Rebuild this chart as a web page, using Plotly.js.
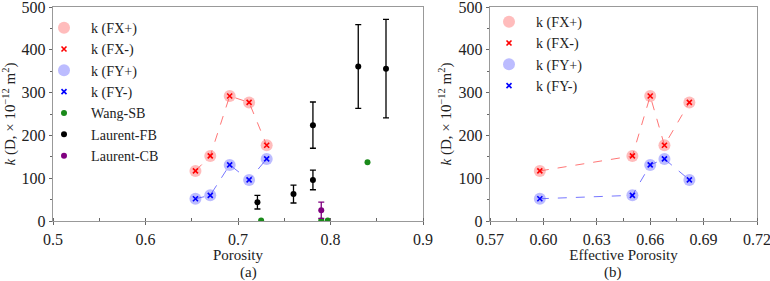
<!DOCTYPE html>
<html><head><meta charset="utf-8">
<script src="https://cdn.plot.ly/plotly-3.0.1.min.js"></script>
<style>body{margin:0;background:#fff}#c{width:770px;height:281px}</style>
</head><body><div id="c"></div>
<script>
// Samples (porosity / effective porosity / permeability)
const porosity    = [0.654, 0.670, 0.691, 0.712, 0.731];
const effPorosity = [0.598, 0.650, 0.660, 0.682, 0.668];
const kFXplus  = [117, 152, 292, 277, 177];
const kFXminus = [117, 152, 292, 277, 177];
const kFYplus  = [52, 60, 131, 96, 145];
const kFYminus = [52, 60, 131, 96, 145];
// Literature
const wangX = [0.725, 0.790, 0.797, 0.840];
const wangY = [1, 1, 1, 137];
const lfbX = [0.721, 0.760, 0.781, 0.781, 0.830, 0.860];
const lfbY = [44, 63, 96, 224, 361, 356];
const lfbErr = [16, 21, 23, 54, 98, 115];
const lcbX = [0.790];
const lcbY = [25];
const lcbErr = [19];
const seriesNames = ['k (FX+)', 'k (FX-)', 'k (FY+)', 'k (FY-)', 'Wang-SB', 'Laurent-FB', 'Laurent-CB'];

const W = 770;
const serif = 'Liberation Serif, Times New Roman, serif';
const txt = '#222';
const pinkFill = 'rgba(255,80,80,0.38)';
const blueFill = 'rgba(80,80,255,0.38)';
const pad = '\u2002';   // extra gap between legend symbol and label
const nm = (i)=>pad + seriesNames[i];

// sort for panel (b)
const order = effPorosity.map((v,i)=>i).sort((a,b)=>effPorosity[a]-effPorosity[b]);
const pick = (arr)=>order.map(i=>arr[i]);

function panel(xs, fxp, fxm, fyp, fym, xa, ya, lg){
  return [
    {x: xs, y: fxp, xaxis: xa, yaxis: ya, mode:'lines', line:{color:'rgba(255,60,60,0.7)', dash:'dash', width:1}, showlegend:false, hoverinfo:'skip'},
    {x: xs, y: fyp, xaxis: xa, yaxis: ya, mode:'lines', line:{color:'rgba(60,60,255,0.7)', dash:'dash', width:1}, showlegend:false, hoverinfo:'skip'},
    {x: xs, y: fxp, xaxis: xa, yaxis: ya, mode:'markers', name:nm(0), legend: lg, marker:{color:pinkFill, size:12, symbol:'circle'}},
    {x: xs, y: fxm, xaxis: xa, yaxis: ya, mode:'markers', name:nm(1), legend: lg, marker:{color:'red', size:5, symbol:'x-thin', line:{color:'red', width:1.6}}},
    {x: xs, y: fyp, xaxis: xa, yaxis: ya, mode:'markers', name:nm(2), legend: lg, marker:{color:blueFill, size:12, symbol:'circle'}},
    {x: xs, y: fym, xaxis: xa, yaxis: ya, mode:'markers', name:nm(3), legend: lg, marker:{color:'blue', size:5, symbol:'x-thin', line:{color:'blue', width:1.6}}}
  ];
}

const data = [
  ...panel(porosity, kFXplus, kFXminus, kFYplus, kFYminus, 'x', 'y', 'legend'),
  {x: wangX, y: wangY, mode:'markers', name:nm(4), legend:'legend', marker:{color:'#1a8a1a', size:6}},
  {x: lfbX, y: lfbY, mode:'markers', name:nm(5), legend:'legend', marker:{color:'black', size:6},
   error_y:{type:'data', array: lfbErr, visible:true, color:'black', thickness:1.3, width:3}},
  {x: lcbX, y: lcbY, mode:'markers', name:nm(6), legend:'legend', marker:{color:'#800080', size:6},
   error_y:{type:'data', array: lcbErr, visible:true, color:'#800080', thickness:1.3, width:3}},
  ...panel(pick(effPorosity), pick(kFXplus), pick(kFXminus), pick(kFYplus), pick(kFYminus), 'x2', 'y2', 'legend2')
];

const axisCommon = {
  showline:true, mirror:true, linecolor:'#999', linewidth:1.3, showgrid:false, zeroline:false,
  ticks:'outside', ticklen:3, tickcolor:'#666', tickfont:{family:serif, size:16, color:txt},
  ticklabeloverflow:'allow'
};
const ytitle = {text:'<i>k</i> (D, × 10<sup>−12</sup> m<sup>2</sup>)', font:{family:serif, size:15, color:txt}, standoff:3};

const layout = {
  width:770, height:281, paper_bgcolor:'#fff', plot_bgcolor:'#fff',
  margin:{l:0, r:0, t:7, b:60},
  font:{family:serif, size:15, color:txt},
  xaxis: Object.assign({}, axisCommon, {domain:[53/W, 423/W], range:[0.5, 0.9], dtick:0.1, tick0:0.5, tickformat:'.1f',
    minor:{ticks:'inside', ticklen:3, tickcolor:'#666', dtick:0.05},
    title:{text:'Porosity', font:{family:serif, size:15, color:txt}, standoff:1}, anchor:'y'}),
  yaxis: Object.assign({}, axisCommon, {domain:[0,1], range:[0, 500], dtick:100, minor:{ticks:'outside', ticklen:2, tickcolor:'#666', dtick:50},
    title:ytitle, anchor:'x'}),
  xaxis2: Object.assign({}, axisCommon, {domain:[490/W, 757/W], range:[0.57, 0.72], dtick:0.03, tick0:0.57, tickformat:'.2f',
    minor:{ticks:'inside', ticklen:3, tickcolor:'#666', dtick:0.015},
    title:{text:'Effective Porosity', font:{family:serif, size:15, color:txt}, standoff:1}, anchor:'y2'}),
  yaxis2: Object.assign({}, axisCommon, {domain:[0,1], range:[0, 500], dtick:100, minor:{ticks:'outside', ticklen:2, tickcolor:'#666', dtick:50},
    title:ytitle, anchor:'x2'}),
  legend:{x:44/W, xanchor:'left', y:1-(5/214), yanchor:'top', bgcolor:'rgba(0,0,0,0)',
    font:{family:serif, size:14.1, color:txt}},
  legend2:{x:489/W, xanchor:'left', y:1+(1/214), yanchor:'top', bgcolor:'rgba(0,0,0,0)',
    font:{family:serif, size:14.1, color:txt}},
  annotations:[
    {text:'(a)', x:(53+423)/2/W, xref:'paper', y:272, yref:'paper', showarrow:false, font:{family:serif, size:15, color:txt}},
    {text:'(b)', x:(490+757)/2/W, xref:'paper', y:272, yref:'paper', showarrow:false, font:{family:serif, size:15, color:txt}}
  ]
};
layout.annotations.forEach(a=>{ a.y = (221 - a.y)/214; a.yanchor='middle'; });

Plotly.newPlot('c', data, layout, {displayModeBar:false, staticPlot:true});
</script></body></html>
